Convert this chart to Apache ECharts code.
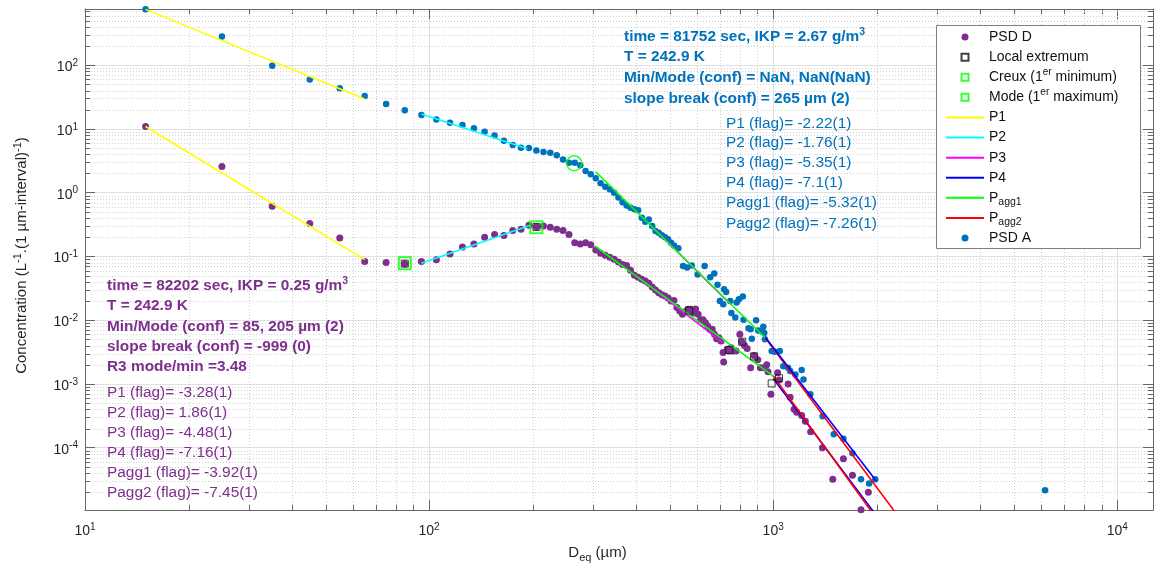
<!DOCTYPE html>
<html><head><meta charset="utf-8">
<script src="https://cdn.jsdelivr.net/npm/echarts@6/dist/echarts.min.js"></script>
<style>html,body{margin:0;padding:0;background:#fff}#c{width:1156px;height:568px}</style>
</head><body><div id="c"></div>
<script>
// ---------- data ----------
const psdD = [[15,10.9],[25,2.58],[35,0.615],[45,0.327],[55,0.195],[65,0.083],[75,0.080],[85,0.077],[95,0.083],[105,0.089],[115,0.109],[125,0.14],[135,0.156],[145,0.20],[155,0.22],[165,0.212],[175,0.254],[185,0.266],[195,0.307],[205,0.293],[215,0.30],[225,0.286],[235,0.266],[245,0.254],[255,0.22],[265,0.164],[275,0.156],[285,0.164],[295,0.153],[305,0.126],[315,0.112],[325,0.104],[335,0.097],[345,0.090],[355,0.082],[365,0.075],[375,0.072],[385,0.0605],[395,0.0506],[405,0.047],[415,0.044],[425,0.041],[435,0.038],[445,0.033],[455,0.0297],[465,0.027],[475,0.025],[485,0.024],[495,0.0223],[505,0.020],[515,0.0204],[525,0.0158],[535,0.0139],[545,0.0124],[555,0.0135],[565,0.0148],[575,0.0148],[585,0.013],[595,0.015],[605,0.0124],[615,0.0102],[625,0.0102],[635,0.0091],[645,0.0081],[655,0.0072],[665,0.0072],[675,0.006],[685,0.0051],[695,0.0053],[705,0.0047],[715,0.0031],[718,0.0022],[735,0.0035],[745,0.0033],[755,0.0037],[765,0.0033],[780,0.0033],[800,0.006],[810,0.0046],[825,0.0040],[840,0.0036],[860,0.0018],[880,0.0028],[902,0.0024],[918,0.0018],[940,0.0018],[958,0.0020],[966,0.00155],[985,0.00069],[1030,0.0015],[1040,0.00115],[1105,0.001],[1120,0.00062],[1150,0.0004],[1170,0.00036],[1210,0.00032],[1240,0.00026],[1285,0.000178],[1390,0.0001],[1490,3.2e-5],[1600,6.7e-5],[1700,3.7e-5],[1800,1.06e-5],[1890,2.0e-5]];
const psdA = [[15,750],[25,282],[35,98],[45,59.7],[55,43.6],[65,32.7],[75,24.5],[85,19.7],[95,16.5],[105,14.1],[115,12.5],[125,11.5],[135,10.2],[145,9.04],[155,7.9],[165,6.53],[175,5.57],[185,5.07],[195,5.0],[205,4.6],[215,4.33],[225,4.23],[235,3.88],[245,3.32],[255,2.95],[265,2.95],[275,2.68],[285,2.18],[295,1.94],[305,1.69],[315,1.40],[325,1.24],[335,1.13],[345,1.0],[355,0.84],[365,0.71],[375,0.63],[385,0.58],[395,0.55],[405,0.53],[415,0.405],[425,0.35],[435,0.38],[445,0.30],[455,0.25],[465,0.236],[475,0.214],[485,0.20],[495,0.186],[505,0.164],[515,0.149],[530,0.134],[547,0.071],[562,0.067],[580,0.072],[603,0.052],[632,0.071],[656,0.047],[674,0.054],[689,0.036],[700,0.02],[716,0.0177],[720,0.0305],[730,0.0277],[750,0.02],[756,0.013],[776,0.011],[783,0.019],[795,0.0213],[816,0.0235],[820,0.0102],[848,0.0075],[860,0.0072],[867,0.0051],[892,0.01],[905,0.0069],[930,0.0066],[936,0.0079],[942,0.0063],[946,0.005],[990,0.0033],[1010,0.0032],[1045,0.0033],[1070,0.0019],[1105,0.0018],[1120,0.0016],[1160,0.0014],[1210,0.00165],[1225,0.00117],[1282,0.00069],[1392,0.00031],[1500,0.000162],[1600,0.000138],[1700,8.2e-5],[1800,3.2e-5],[1900,2.75e-5],[1980,3.2e-5],[6170,2.16e-5]];

// fitted power-law segments (end points)
const p1D = [[15,10.9],[65,0.089]];
const p2D = [[95,0.078],[197,0.307]];
const p3D = [[406,0.0465],[720,0.0043]];
const p4D = [[1000,0.00122],[1960,0.98e-5]];
const pagg1D = [[303,0.146],[1001,0.00133]];
const pagg2D = [[1001,0.00133],[1935,0.98e-5]];
const p1A = [[15,750],[65,29.5]];
const p2A = [[95,17.1],[193,4.9]];
const p3A = [[453,0.266],[740,0.0193]];
const p4A = [[944,0.0056],[1994,3.0e-5]];
const pagg1A = [[305,2.13],[948,0.0053]];
const pagg2A = [[948,0.0053],[2260,0.98e-5]];

const localExtremum = [[85,0.077],[205,0.29],[570,0.0142],[745,0.0034],[813,0.0046],[880,0.0027],[990,0.00102],[1040,0.00123]];
const creux = [[85,0.078]];
const modeMax = [[205,0.288]];
const slopeBreak = [[264,2.9]];

// axis ranges and minor tick positions
const xRange = [10, 12700];
const yRange = [1.05e-5, 760];
const xMinor = [20,30,40,50,60,70,80,90,200,300,400,500,600,700,800,900,2000,3000,4000,5000,6000,7000,8000,9000];
const yMinor = [2e-5,3e-5,4e-5,5e-5,6e-5,7e-5,8e-5,9e-5,2e-4,3e-4,4e-4,5e-4,6e-4,7e-4,8e-4,9e-4,2e-3,3e-3,4e-3,5e-3,6e-3,7e-3,8e-3,9e-3,0.02,0.03,0.04,0.05,0.06,0.07,0.08,0.09,0.2,0.3,0.4,0.5,0.6,0.7,0.8,0.9,2,3,4,5,6,7,8,9,20,30,40,50,60,70,80,90,200,300,400,500,600,700];

// annotation texts
const blueBold = ['time = 81752 sec, IKP = 2.67 g/m{sup|3}','T = 242.9 K','Min/Mode (conf) = NaN, NaN(NaN)','slope break (conf) = 265 µm (2)'];
const blueReg = ['P1 (flag)= -2.22(1)','P2 (flag)= -1.76(1)','P3 (flag)= -5.35(1)','P4 (flag)= -7.1(1)','Pagg1 (flag)= -5.32(1)','Pagg2 (flag)= -7.26(1)'];
const purpleBold = ['time = 82202 sec, IKP = 0.25 g/m{sup|3}','T = 242.9 K','Min/Mode (conf) = 85, 205 µm (2)','slope break (conf) = -999 (0)','R3 mode/min =3.48'];
const purpleReg = ['P1 (flag)= -3.28(1)','P2 (flag)= 1.86(1)','P3 (flag)= -4.48(1)','P4 (flag)= -7.16(1)','Pagg1 (flag)= -3.92(1)','Pagg2 (flag)= -7.45(1)'];
const legendNames = ['PSD D','Local extremum','Creux (1er minimum)','Mode (1er maximum)','P1','P2','P3','P4','Pagg1','Pagg2','PSD A'];
const legendLabels = {'Creux (1er minimum)':'Creux (1{sup|er} minimum)','Mode (1er maximum)':'Mode (1{sup|er} maximum)','Pagg1':'P{sub|agg1}','Pagg2':'P{sub|agg2}'};

// ---------- styling ----------
const FONT = 'Liberation Sans, Arial, Helvetica, sans-serif';
const AXIS = '#666666';
const TXT = '#262626';
const GRID_MAJOR = '#e0e0e0';
const GRID_MINOR = '#d0d0d0';
const PURPLE = '#7E2F8E', BLUE = '#0072BD';
const C = {P1:'#FFFF00',P2:'#00FFFF',P3:'#FF00FF',P4:'#0000FF',Pagg1:'#00FF00',Pagg2:'#FF0000'};
const SQUARE_ICON = 'path://M0,0L10,0L10,10L0,10Z';

function tickFmt(v){
  const l = Math.log10(v), e = Math.round(l);
  if (Math.abs(l - e) > 1e-6) return '';
  return '{b|10}{s|' + e + '}';
}
const tickRich = {
  b:{fontSize:14,lineHeight:18,fontFamily:FONT,color:TXT},
  s:{fontSize:10,lineHeight:10,verticalAlign:'top',fontFamily:FONT,color:TXT}
};

function minorX(params, api){
  const cs = params.coordSys;
  const x = Math.round(api.coord([api.value(0), 1])[0]) + 0.5;
  const yt = cs.y, yb = cs.y + cs.height;
  return {type:'group', children:[
    {type:'line', shape:{x1:x,y1:yt,x2:x,y2:yb}, style:{stroke:GRID_MINOR,lineWidth:1,lineDash:[1,2]}},
    {type:'line', shape:{x1:x,y1:yb,x2:x,y2:yb-5}, style:{stroke:AXIS,lineWidth:1}},
    {type:'line', shape:{x1:x,y1:yt,x2:x,y2:yt+5}, style:{stroke:AXIS,lineWidth:1}}
  ]};
}
function minorY(params, api){
  const cs = params.coordSys;
  const y = Math.round(api.coord([100, api.value(1)])[1]) + 0.5;
  const xl = cs.x, xr = cs.x + cs.width;
  return {type:'group', children:[
    {type:'line', shape:{x1:xl,y1:y,x2:xr,y2:y}, style:{stroke:GRID_MINOR,lineWidth:1,lineDash:[1,2]}},
    {type:'line', shape:{x1:xl,y1:y,x2:xl+5,y2:y}, style:{stroke:AXIS,lineWidth:1}},
    {type:'line', shape:{x1:xr,y1:y,x2:xr-5,y2:y}, style:{stroke:AXIS,lineWidth:1}}
  ]};
}

function fit(name, data){
  return {type:'line', name, data, symbol:'none', z:4, silent:true,
    lineStyle:{color:C[name], width:1.6}, itemStyle:{color:C[name]}};
}

function txt(x, y, text, color, bold){
  const w = bold ? 'bold' : 'normal';
  return {type:'text', x, y, z:6, silent:true, style:{
    text, fill:color, fontFamily:FONT, fontSize:15.4, fontWeight:w,
    align:'left', verticalAlign:'middle', lineHeight:20,
    rich:{sup:{fontSize:10.5,lineHeight:10,verticalAlign:'top',fontFamily:FONT,fontWeight:w,fill:color}}
  }};
}
const graphics = [
  {type:'rect', z:3, silent:true, shape:{x:936.5,y:25.5,width:204,height:223}, style:{fill:'#fff',stroke:'#808080',lineWidth:1}}
];
const blueBoldY = [37,57,78,98.5], blueRegY = [123.3,143,163,183,203,223.3];
const purBoldY = [286,306,326.7,346.7,366.7], purRegY = [392.7,412.7,432.7,452.7,472.7,492.7];
blueBold.forEach((t,i)=>graphics.push(txt(624, blueBoldY[i], t, BLUE, true)));
blueReg.forEach((t,i)=>graphics.push(txt(726, blueRegY[i], t, BLUE, false)));
purpleBold.forEach((t,i)=>graphics.push(txt(107, purBoldY[i], t, PURPLE, true)));
purpleReg.forEach((t,i)=>graphics.push(txt(107, purRegY[i], t, PURPLE, false)));

const legendData = legendNames.map(n => {
  if (n === 'Local extremum' || n.indexOf('Creux') === 0 || n.indexOf('Mode') === 0) return {name:n, icon:SQUARE_ICON};
  if (C[n]) return {name:n, itemStyle:{opacity:0}};
  return {name:n};
});

const axisCommon = {type:'log', logBase:10};
const option = {
  animation:false,
  backgroundColor:'#fff',
  textStyle:{fontFamily:FONT},
  grid:{left:85, top:9, right:-2, bottom:57, containLabel:false},
  xAxis:[
    Object.assign({}, axisCommon, {min:xRange[0], max:xRange[1], position:'bottom',
      name:'D{sub|eq} (µm)', nameLocation:'middle', nameGap:29,
      nameTextStyle:{fontSize:15, fontFamily:FONT, color:TXT, lineHeight:20, padding:[0,43,0,0],
        rich:{sub:{fontSize:11,lineHeight:8,verticalAlign:'bottom',fontFamily:FONT,color:TXT}}},
      axisLine:{show:true, lineStyle:{color:AXIS,width:1}},
      axisTick:{show:true, inside:true, length:10, lineStyle:{color:AXIS}},
      axisLabel:{formatter:tickFmt, margin:12, rich:tickRich, showMinLabel:true, showMaxLabel:true},
      splitLine:{show:true, lineStyle:{color:GRID_MAJOR,width:1}},
      minorTick:{show:false}, minorSplitLine:{show:false}}),
    Object.assign({}, axisCommon, {min:xRange[0], max:xRange[1], position:'top',
      axisLine:{show:true, lineStyle:{color:AXIS,width:1}},
      axisTick:{show:true, inside:true, length:10, lineStyle:{color:AXIS}},
      axisLabel:{show:false}, splitLine:{show:false}})
  ],
  yAxis:[
    Object.assign({}, axisCommon, {min:yRange[0], max:yRange[1], position:'left',
      name:'Concentration (L{sup|-1}.(1 µm-interval){sup|-1})', nameLocation:'middle', nameGap:53,
      nameTextStyle:{fontSize:15, fontFamily:FONT, color:TXT, lineHeight:20, padding:[0,0,0,8],
        rich:{sup:{fontSize:11,lineHeight:10,verticalAlign:'top',fontFamily:FONT,color:TXT}}},
      axisLine:{show:true, lineStyle:{color:AXIS,width:1}},
      axisTick:{show:true, inside:true, length:10, lineStyle:{color:AXIS}},
      axisLabel:{formatter:tickFmt, margin:7, rich:tickRich, padding:[4,0,0,0]},
      splitLine:{show:true, lineStyle:{color:GRID_MAJOR,width:1}},
      minorTick:{show:false}, minorSplitLine:{show:false}}),
    Object.assign({}, axisCommon, {min:yRange[0], max:yRange[1], position:'right',
      axisLine:{show:true, lineStyle:{color:AXIS,width:1}},
      axisTick:{show:true, inside:true, length:10, lineStyle:{color:AXIS}},
      axisLabel:{show:false}, splitLine:{show:false}})
  ],
  legend:{
    data:legendData, orient:'vertical', left:945, top:27, padding:0, itemGap:0,
    itemWidth:38, itemHeight:7, z:5, selectedMode:false,
    formatter:(n)=>legendLabels[n] || n,
    textStyle:{fontSize:14, fontFamily:FONT, color:'#111', lineHeight:20.1,
      rich:{
        sup:{fontSize:10,lineHeight:10,verticalAlign:'top',fontFamily:FONT,color:'#111'},
        sub:{fontSize:10.5,lineHeight:8,verticalAlign:'bottom',fontFamily:FONT,color:'#111'}
      }}
  },
  graphic:graphics,
  series:[
    {type:'custom', silent:true, z:1, renderItem:minorX, data:xMinor.map(v=>[v,1]), clip:false},
    {type:'custom', silent:true, z:1, renderItem:minorY, data:yMinor.map(v=>[100,v]), clip:false},
    {type:'scatter', name:'PSD D', data:psdD, symbol:'circle', symbolSize:7, z:2, itemStyle:{color:PURPLE, opacity:1}},
    {type:'scatter', name:'PSD A', data:psdA, symbol:'circle', symbolSize:6.5, z:2, itemStyle:{color:BLUE, opacity:1}},
    fit('P1', p1D), fit('P2', p2D), fit('P3', p3D), fit('P4', p4D), fit('Pagg1', pagg1D), fit('Pagg2', pagg2D),
    fit('P1', p1A), fit('P2', p2A), fit('P3', p3A), fit('Pagg2', pagg2A), fit('P4', p4A), fit('Pagg1', pagg1A),
    {type:'scatter', name:'Local extremum', data:localExtremum, symbol:'rect', symbolSize:7, z:5,
      itemStyle:{color:'rgba(0,0,0,0)', borderColor:'#111', borderWidth:1}},
    {type:'scatter', name:'Creux (1er minimum)', data:creux, symbol:'rect', symbolSize:12, z:5,
      itemStyle:{color:'rgba(0,0,0,0)', borderColor:'#00FF00', borderWidth:2}},
    {type:'scatter', name:'Mode (1er maximum)', data:modeMax, symbol:'rect', symbolSize:12, z:5,
      itemStyle:{color:'rgba(0,0,0,0)', borderColor:'#00FF00', borderWidth:2}},
    {type:'scatter', name:'slope break', data:slopeBreak, symbol:'circle', symbolSize:15, z:5,
      itemStyle:{color:'rgba(0,0,0,0)', borderColor:'#00FF00', borderWidth:1.6}}
  ]
};
const chart = echarts.init(document.getElementById('c'), null, {renderer:'canvas'});
chart.setOption(option);
</script>
</body></html>
